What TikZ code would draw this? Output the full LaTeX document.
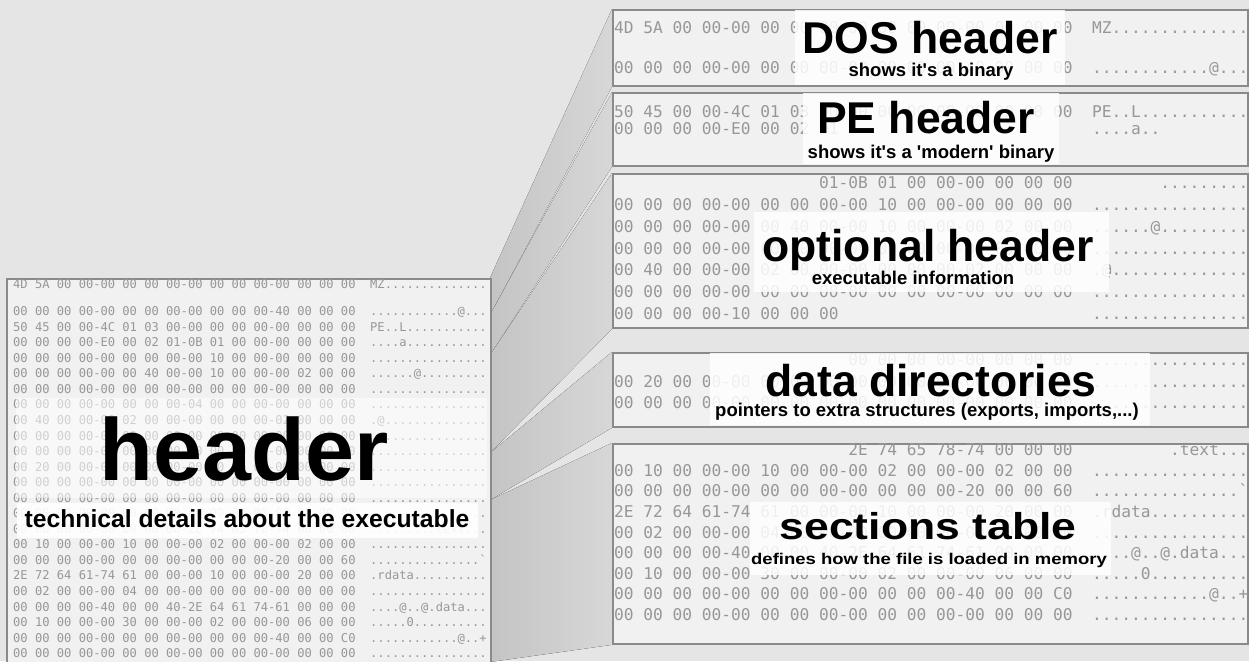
\documentclass[tikz,border=0pt]{standalone}
\usepackage{fontspec}
\setmainfont{Liberation Sans}
\setmonofont{DejaVu Sans Mono}
\usetikzlibrary{positioning,backgrounds}

\definecolor{bggray}{HTML}{E5E5E5}
\definecolor{boxfill}{HTML}{F1F1F1}
\definecolor{boxline}{HTML}{8A8A8A}
\definecolor{hexgray}{HTML}{979797}
\definecolor{fandark}{HTML}{C4C4C4}
\definecolor{fanlight}{HTML}{D7D7D7}

\begin{document}
\begin{tikzpicture}[x=1pt, y=-1pt, % pixel grid, y downwards
	dumpbox/.style={draw=boxline, line width=1.8pt, fill=boxfill, anchor=north west, inner sep=0pt},
	hexbig/.style={font=\fontsize{16.2}{16}\ttfamily, text=hexgray, anchor=mid west, inner sep=0pt},
	hexsmall/.style={font=\fontsize{12.1}{12}\ttfamily, text=hexgray, anchor=mid west, inner sep=0pt},
	whiteband/.style={fill=white, fill opacity=0.85, anchor=north west, inner sep=0pt},
	title/.style={font=\fontsize{44.5}{44}\selectfont\bfseries, anchor=base, inner sep=0pt},
	subtitle/.style={font=\fontsize{18.5}{18}\selectfont\bfseries, anchor=base, inner sep=0pt},
	fan/.style={left color=fandark, right color=fanlight, draw=none}]
	\useasboundingbox (0,0) rectangle (1249,661);

	% the whole header (left) and its parts (right)
	\node[dumpbox, minimum width=484pt, minimum height=420pt] (hdr) at (6,278) {};
	\node[dumpbox, minimum width=635pt, minimum height=76pt] (dos) at (612,9) {};
	\node[dumpbox, minimum width=635pt, minimum height=73pt] (pe) at (612,92) {};
	\node[dumpbox, minimum width=635pt, minimum height=154pt] (opt) at (612,173) {};
	\node[dumpbox, minimum width=635pt, minimum height=74pt] (dirs) at (612,352) {};
	\node[dumpbox, minimum width=635pt, minimum height=200pt] (sect) at (612,443) {};

	% where the fan leaves the header
	\coordinate (h0) at (490,278);
	\coordinate (h1) at (490,315);
	\coordinate (h2) at (490,355);
	\coordinate (h3) at (490,453);
	\coordinate (h4) at (490,500);
	\coordinate (h5) at (490,662);

	\begin{scope}[on background layer]
		\fill[bggray] (0,0) rectangle (1249,661);
		\fill[fan] (h0) -- (dos.north west) -- (dos.south west) -- (h1) -- cycle;
		\fill[fan] (h1) -- (pe.north west) -- (pe.south west) -- (h2) -- cycle;
		\fill[fan] (h2) -- (opt.north west) -- (opt.south west) -- (h3) -- cycle;
		\fill[fan] (h3) -- (dirs.north west) -- (dirs.south west) -- (h4) -- cycle;
		\fill[fan] (h4) -- (sect.north west) -- (sect.south west) -- (h5) -- cycle;
	\end{scope}

	% left dump
	\node[hexsmall] at (13,286) {4D 5A 00 00-00 00 00 00-00 00 00 00-00 00 00 00};
	\node[hexsmall] at (370,286) {MZ..............};
	\foreach \h/\a [count=\k from 0] in {
		{00 00 00 00-00 00 00 00-00 00 00 00-40 00 00 00}/{............@...},
		{50 45 00 00-4C 01 03 00-00 00 00 00-00 00 00 00}/{PE..L...........},
		{00 00 00 00-E0 00 02 01-0B 01 00 00-00 00 00 00}/{....a...........},
		{00 00 00 00-00 00 00 00-00 10 00 00-00 00 00 00}/{................},
		{00 00 00 00-00 00 40 00-00 10 00 00-00 02 00 00}/{......@.........},
		{00 00 00 00-00 00 00 00-00 00 00 00-00 00 00 00}/{................},
		{00 00 00 00-00 00 00 00-04 00 00 00-00 00 00 00}/{................},
		{00 40 00 00-00 02 00 00-00 00 00 00-02 00 00 00}/{.@..............},
		{00 00 00 00-00 00 00 00-00 00 00 00-00 00 00 00}/{................},
		{00 00 00 00-00 00 00 00-00 00 00 00-00 00 00 00}/{................},
		{00 20 00 00-00 00 00 00-00 00 00 00-00 00 00 00}/{................},
		{00 00 00 00-00 00 00 00-00 00 00 00-00 00 00 00}/{................},
		{00 00 00 00-00 00 00 00-00 00 00 00-00 00 00 00}/{................},
		{00 00 00 00-00 00 00 00-00 00 00 00-00 00 00 00}/{................},
		{00 00 00 00-00 00 00 00-2E 74 65 78-74 00 00 00}/{.........text...},
		{00 10 00 00-00 10 00 00-00 02 00 00-00 02 00 00}/{................},
		{00 00 00 00-00 00 00 00-00 00 00 00-20 00 00 60}/{...............`},
		{2E 72 64 61-74 61 00 00-00 10 00 00-00 20 00 00}/{.rdata..........},
		{00 02 00 00-00 04 00 00-00 00 00 00-00 00 00 00}/{................},
		{00 00 00 00-40 00 00 40-2E 64 61 74-61 00 00 00}/{....@..@.data...},
		{00 10 00 00-00 30 00 00-00 02 00 00-00 06 00 00}/{.....0..........},
		{00 00 00 00-00 00 00 00-00 00 00 00-40 00 00 C0}/{............@..+},
		{00 00 00 00-00 00 00 00-00 00 00 00-00 00 00 00}/{................}}
	{
		\node[hexsmall] at (13,{313+15.55*\k}) {\h};
		\node[hexsmall] at (370,{313+15.55*\k}) {\a};
	}
	\node[whiteband, fill opacity=0.55, minimum width=471pt, minimum height=100pt] (hdrband) at (16,398) {};
	\node[whiteband, fill opacity=0.9, minimum width=461pt, minimum height=35pt] (techband) at (17,503) {};
	\node[font=\fontsize{88}{88}\selectfont\bfseries, anchor=base, inner sep=0pt] (hdrtitle) at (244,480) {header};
	\node[font=\fontsize{24.7}{25}\selectfont\bfseries, anchor=base, inner sep=0pt] (hdrsub) at (247,527) {technical details about the executable};

	% DOS header
	\node[hexbig] at (614,31) {4D 5A 00 00-00 00 00 00-00 00 00 00-00 00 00 00};
	\node[hexbig] at (1092,31) {MZ..............};
	\node[hexbig] at (614,71) {00 00 00 00-00 00 00 00-00 00 00 00-40 00 00 00};
	\node[hexbig] at (1092,71) {............@...};
	\node[whiteband, minimum width=270pt, minimum height=75pt] (dosband) at (795,10) {};
	\node[title] (dostitle) at (930,53) {DOS header};
	\node[subtitle] (dossub) at (931,77) {shows it\textquotesingle s a binary};

	% PE header
	\node[hexbig] at (614,115) {50 45 00 00-4C 01 03 00-00 00 00 00-00 00 00 00};
	\node[hexbig] at (1092,115) {PE..L...........};
	\node[hexbig] at (614,132) {00 00 00 00-E0 00 02 01};
	\node[hexbig] at (1092,132) {....a..};
	\node[whiteband, minimum width=256pt, minimum height=71pt] (peband) at (803,93) {};
	\node[title] (petitle) at (926,133) {PE header};
	\node[subtitle] (pesub) at (931,158) {shows it\textquotesingle s a \textquotesingle modern\textquotesingle\ binary};

	% optional header
	\node[hexbig] at ({614+21*9.753},186) {01-0B 01 00 00-00 00 00 00};
	\node[hexbig] at ({1092+7*9.753},186) {.........};
	\foreach \h/\a [count=\k from 1] in {
		{00 00 00 00-00 00 00 00-00 10 00 00-00 00 00 00}/{................},
		{00 00 00 00-00 00 40 00-00 10 00 00-00 02 00 00}/{......@.........},
		{00 00 00 00-00 00 00 00-04 00 00 00-00 00 00 00}/{................},
		{00 40 00 00-00 02 00 00-00 00 00 00-02 00 00 00}/{.@..............},
		{00 00 00 00-00 00 00 00-00 00 00 00-00 00 00 00}/{................},
		{00 00 00 00-10 00 00 00}/{................}}
	{
		\node[hexbig] at (614,{186+21.8*\k}) {\h};
		\node[hexbig] at (1092,{186+21.8*\k}) {\a};
	}
	\node[whiteband, minimum width=355pt, minimum height=80pt] (optband) at (754,212) {};
	\node[title] (opttitle) at (928,261) {optional header};
	\node[subtitle] (optsub) at (913,284) {executable information};

	% data directories
	\node[hexbig] at ({614+24*9.753},363) {00 00 00 00-00 00 00 00};
	\foreach \h [count=\k from 1] in {
		{00 20 00 00-00 00 00 00-00 00 00 00-00 00 00 00},
		{00 00 00 00-00 00 00 00-00 00 00 00-00 00 00 00}}
	{
		\node[hexbig] at (614,{363+21.5*\k}) {\h};
	}
	\foreach \k in {0,1,2}
		\node[hexbig] at (1092,{363+21.5*\k}) {................};
	\node[whiteband, minimum width=440pt, minimum height=72pt] (dirsband) at (710,353) {};
	\node[title] (dirstitle) at (931,396) {data directories};
	\node[subtitle] (dirssub) at (927,416) {pointers to extra structures (exports, imports,...)};

	% sections table (its label is a little flatter)
	\node[hexbig] at ({614+24*9.753},453) {2E 74 65 78-74 00 00 00};
	\node[hexbig] at ({1092+8*9.753},453) {.text...};
	\foreach \h/\a [count=\k from 1] in {
		{00 10 00 00-00 10 00 00-00 02 00 00-00 02 00 00}/{................},
		{00 00 00 00-00 00 00 00-00 00 00 00-20 00 00 60}/{...............`},
		{2E 72 64 61-74 61 00 00-00 10 00 00-00 20 00 00}/{.rdata..........},
		{00 02 00 00-00 04 00 00-00 00 00 00-00 00 00 00}/{................},
		{00 00 00 00-40 00 00 40-2E 64 61 74-61 00 00 00}/{....@..@.data...},
		{00 10 00 00-00 30 00 00-00 02 00 00-00 06 00 00}/{.....0..........},
		{00 00 00 00-00 00 00 00-00 00 00 00-40 00 00 C0}/{............@..+},
		{00 00 00 00-00 00 00 00-00 00 00 00-00 00 00 00}/{................}}
	{
		\node[hexbig] at (614,{453+20.6*\k}) {\h};
		\node[hexbig] at (1092,{453+20.6*\k}) {\a};
	}
	\node[whiteband, minimum width=361pt, minimum height=73pt] (sectband) at (750,502) {};
	\node[title, yscale=0.84, transform shape] (secttitle) at (928,539) {sections table};
	\node[subtitle, yscale=0.84, transform shape] (sectsub) at (929,564) {defines how the file is loaded in memory};

\end{tikzpicture}
\end{document}
